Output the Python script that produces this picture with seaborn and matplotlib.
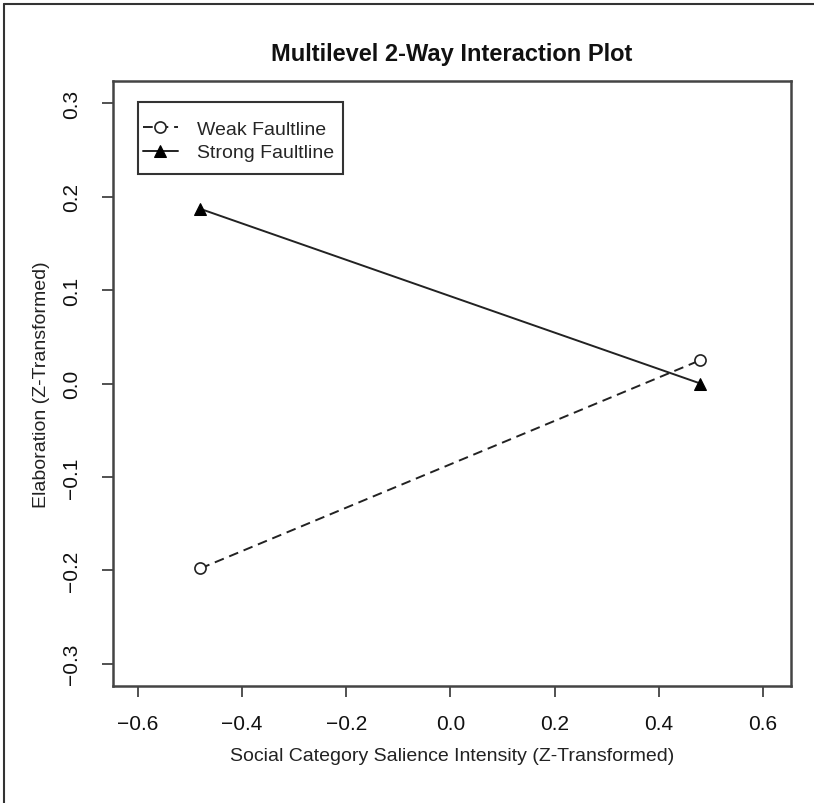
import numpy as np
import pandas as pd
import matplotlib
matplotlib.use("Agg")
import matplotlib.pyplot as plt
from matplotlib.lines import Line2D
from matplotlib.patches import Rectangle
import seaborn as sns

# valeurs
x_levels = [-0.48, 0.48]
weak_vals = [-0.198, 0.025]
strong_vals = [0.187, 0.0]
series_names = ["Weak Faultline", "Strong Faultline"]
x_ticks = [-0.6, -0.4, -0.2, 0.0, 0.2, 0.4, 0.6]
y_ticks = [-0.3, -0.2, -0.1, 0.0, 0.1, 0.2, 0.3]

df = pd.DataFrame({
    "x": x_levels * 2,
    "y": weak_vals + strong_vals,
    "groupe": [series_names[0]] * 2 + [series_names[1]] * 2,
})

sns.set_style("ticks")
plt.rcParams["font.family"] = ["Liberation Sans", "DejaVu Sans"]

fig = plt.figure(figsize=(8.14, 8.04), dpi=100)
ax = fig.add_axes([0.1388, 0.1455, 0.8329, 0.7525])

weak = df[df["groupe"] == series_names[0]]
strong = df[df["groupe"] == series_names[1]]
sns.lineplot(data=weak, x="x", y="y", ax=ax, color="#222222", linestyle=(0, (5, 3)),
             linewidth=1.4, marker="o", markersize=8, markerfacecolor="white",
             markeredgecolor="#222222", markeredgewidth=1.2, label=series_names[0])
sns.lineplot(data=strong, x="x", y="y", ax=ax, color="#222222", linestyle="-",
             linewidth=1.4, marker="^", markersize=9, markerfacecolor="black",
             markeredgecolor="black", label=series_names[1])

ax.set_xlim(-0.648, 0.654)
ax.set_ylim(-0.324, 0.324)
ax.set_xticks(x_ticks)
ax.set_yticks(y_ticks)
ax.set_xticklabels(["\u22120.6", "\u22120.4", "\u22120.2", "0.0", "0.2", "0.4", "0.6"])
ax.set_yticklabels(["\u22120.3", "\u22120.2", "\u22120.1", "0.0", "0.1", "0.2", "0.3"],
                   rotation=90, va="center")
ax.tick_params(direction="out", length=8, width=1.2, colors="#333333",
               labelsize=15, labelcolor="#111111")
ax.tick_params(axis="x", pad=12)
ax.tick_params(axis="y", pad=15)

for s in ax.spines.values():
    s.set_visible(True)
    s.set_linewidth(1.8)
    s.set_color("#444444")

ax.set_title("Multilevel 2-Way Interaction Plot", fontsize=17, fontweight="bold",
             color="#111111", pad=15)
ax.set_xlabel("Social Category Salience Intensity (Z-Transformed)", fontsize=14,
              color="#222222", labelpad=10)
ax.set_ylabel("Elaboration (Z-Transformed)", fontsize=14, color="#222222", labelpad=9)

# légende façon R : cadre dessiné à part, contenu sans cadre
leg = ax.legend(loc="upper left", bbox_to_anchor=(0.0442, 0.935), borderaxespad=0,
                fontsize=14, frameon=False, handlelength=1.8,
                handletextpad=1.0, borderpad=0, labelspacing=0.3)
ax.add_patch(Rectangle((0.0369, 0.8463), 0.3023, 0.119, transform=ax.transAxes,
                       fill=False, edgecolor="#333333", linewidth=1.5, zorder=5))

# cadre extérieur (gauche et haut)
fig.add_artist(Line2D([0.005, 0.005], [0, 0.994], transform=fig.transFigure,
                      color="#333333", linewidth=1.5))
fig.add_artist(Line2D([0.005, 1.0], [0.994, 0.994], transform=fig.transFigure,
                      color="#333333", linewidth=1.5))

fig.savefig("out.png", dpi=100)
